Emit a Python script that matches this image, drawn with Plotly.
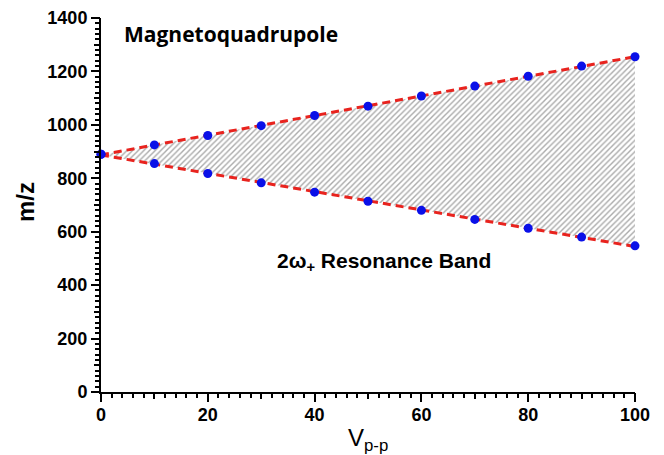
import numpy as np
import plotly.graph_objects as go

v_pp = [0, 10, 20, 30, 40, 50, 60, 70, 80, 90, 100]
mz_upper = [890, 925, 960, 997, 1035, 1070, 1108, 1145, 1182, 1220, 1255]
mz_lower = [890, 855, 818, 783, 748, 714, 680, 646, 613, 580, 547]

# linear fits of the data
pu = np.polyfit(v_pp, mz_upper, 1)
pl = np.polyfit(v_pp, mz_lower, 1)
xf = np.array([v_pp[0], v_pp[-1]])
fit_u = np.polyval(pu, xf)
fit_l = np.polyval(pl, xf)

fig = go.Figure()
fig.add_trace(go.Scatter(x=xf, y=fit_l, mode="lines",
                         line=dict(color="rgba(0,0,0,0)", width=0),
                         showlegend=False, hoverinfo="skip"))
fig.add_trace(go.Scatter(x=xf, y=fit_u, mode="lines", fill="tonexty",
                         fillcolor="white",
                         fillpattern=dict(shape="/", size=4, solidity=0.35,
                                          fgcolor="#555555", bgcolor="white"),
                         line=dict(color="rgba(0,0,0,0)", width=0),
                         showlegend=False, hoverinfo="skip"))
for yf in (fit_u, fit_l):
    fig.add_trace(go.Scatter(x=xf, y=yf, mode="lines",
                             line=dict(color="#e8231e", width=3, dash="8px,5px"),
                             showlegend=False, cliponaxis=False))
for yv in (mz_upper, mz_lower):
    fig.add_trace(go.Scatter(x=v_pp, y=yv, mode="markers",
                             marker=dict(color="#0a10e8", size=9),
                             showlegend=False, cliponaxis=False))
# invisible trace so the overlay axes (medium ticks) are drawn
fig.add_trace(go.Scatter(x=[None], y=[None], xaxis="x2", yaxis="y2",
                         showlegend=False, hoverinfo="skip"))

font = "Liberation Sans, Arial, sans-serif"
fig.add_annotation(x=0.04, y=1.0, xref="paper", yref="paper", xanchor="left",
                   yanchor="top", showarrow=False, text="<b>Magnetoquadrupole</b>",
                   font=dict(family="Open Sans, sans-serif", size=21, color="black"))
fig.add_annotation(x=53, y=485, xref="x", yref="y", xanchor="center",
                   yanchor="middle", showarrow=False,
                   text="<b>2ω<sub>+</sub> Resonance Band</b>",
                   font=dict(family=font, size=21, color="black"))
# axis titles
fig.add_annotation(x=0.5, y=0, xref="paper", yref="paper", xanchor="center",
                   yanchor="top", yshift=-30, showarrow=False,
                   text="V<sub>p-p</sub>",
                   font=dict(family=font, size=24, color="black"))
fig.add_annotation(x=0, y=0.508, xref="paper", yref="paper", xanchor="center",
                   yanchor="middle", xshift=-76, textangle=-90, showarrow=False,
                   text="<b>m/z</b>",
                   font=dict(family=font, size=24, color="black"))

axis_common = dict(showline=True, linecolor="black", linewidth=2, mirror=False,
                   showgrid=False, zeroline=False, ticks="outside",
                   ticklen=8, tickwidth=2, tickcolor="black", automargin=False,
                   tickmode="linear", tick0=0, ticklabeloverflow="allow",
                   tickfont=dict(family=font, size=18, color="black", weight="bold"))
fig.update_layout(
    xaxis=dict(range=[0, 100], dtick=20, ticklabelstandoff=-3, **axis_common,
               minor=dict(tickmode="linear", tick0=0, dtick=2, ticks="outside",
                          ticklen=4, tickwidth=1.5, tickcolor="black")),
    yaxis=dict(range=[0, 1400], dtick=200, **axis_common,
               minor=dict(tickmode="linear", tick0=0, dtick=20, ticks="outside",
                          ticklen=4, tickwidth=1.5, tickcolor="black")),
    xaxis2=dict(overlaying="x", range=[0, 100], tickmode="linear", tick0=0, dtick=10,
                ticks="outside", ticklen=6, tickwidth=1.5, tickcolor="black",
                showticklabels=False, showline=False, showgrid=False, zeroline=False,
                anchor="y2", automargin=False),
    yaxis2=dict(overlaying="y", range=[0, 1400], tickmode="linear", tick0=0, dtick=100,
                ticks="outside", ticklen=6, tickwidth=1.5, tickcolor="black",
                showticklabels=False, showline=False, showgrid=False, zeroline=False,
                anchor="x2", automargin=False),
)
# page body has an 8px margin; size the figure so the plot area lands where the reference has it
fig.update_layout(width=656, height=447, margin=dict(l=93, r=29, t=10, b=63),
                  plot_bgcolor="white", paper_bgcolor="white")
fig.write_html("out.html")
